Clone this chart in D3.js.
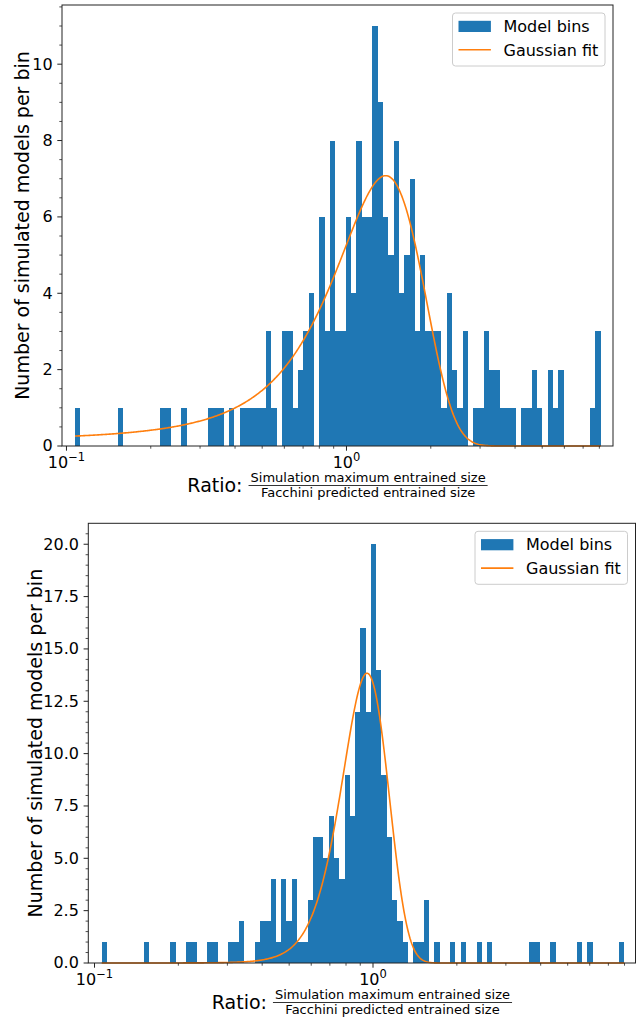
<!DOCTYPE html>
<html>
<head>
<meta charset="utf-8">
<script src="https://cdn.jsdelivr.net/npm/d3@7"></script>
<style>
  body { margin: 0; background: #fff; }
  svg { display: block; }
  text { font-family: "DejaVu Sans", sans-serif; fill: #000; }
</style>
</head>
<body>
<svg id="chart" width="639" height="1017"></svg>
<script>
// Counts of simulated models in each of 99 logarithmic ratio bins
const countsTop = [
  1,0,0,0,0,0,0,0,1,0, 0,0,0,0,0,0,1,1,0,0,
  1,0,0,0,0,1,1,1,0,1, 0,1,1,1,1,1,3,1,0,3,
  3,1,2,3,4,0,6,3,8,3, 3,6,4,8,6,6,11,9,6,5,
  8,4,5,7,3,5,3,3,3,1, 4,2,1,3,0,1,1,3,2,2,
  1,1,1,0,1,1,2,1,0,2, 1,2,0,0,0,0,0,1,3
];
const countsBottom = [
  1,0,0,0,0,0,0,0,1,0, 0,0,0,1,0,0,1,1,0,0,
  1,1,0,0,1,1,2,0,0,1, 2,2,4,1,4,2,4,1,1,3,
  6,6,5,7,5,4,9,7,12,16, 12,20,14,9,6,3,2,1,0,1,
  1,3,0,1,0,0,1,0,1,0, 0,1,0,1,0,0,0,0,0,0,
  0,1,1,0,0,1,0,0,0,0, 1,0,1,0,0,0,0,0,1
];

// Outer bin edges (ratio) of each histogram
const binEdgesTop = [0.1073, 8.09];
const binEdgesBottom = [0.1061, 7.99];

// Gaussian fit parameters: amplitude, mean, standard deviation
const fitTop = [7.08, 1.38, 0.495];
const fitBottom = [13.84, 0.952, 0.183];

// Axis limits and ticks
const xLimTop = [0.0964, 8.95];
const xLimBottom = [0.0950, 8.76];
const xMajorTicks = [0.1, 1];
const xMajorExponents = ["\u22121", "0"];
const yTicksTop = [0, 2, 4, 6, 8, 10];
const yTicksBottom = [0, 2.5, 5, 7.5, 10, 12.5, 15, 17.5, 20];
const yTickFormatTop = d3.format("d");
const yTickFormatBottom = d3.format(".1f");

// Labels
const legendLabels = ["Model bins", "Gaussian fit"];
const yLabel = "Number of simulated models per bin";
const xLabelLead = "Ratio:";
const xLabelNum = "Simulation maximum entrained size";
const xLabelDen = "Facchini predicted entrained size";

const BLUE = "#1f77b4";
const ORANGE = "#ff7f0e";

const svg = d3.select("#chart");

function drawPanel(cfg) {
  const { left, right, top, bottom } = cfg.box;
  const counts = cfg.counts;
  const nBins = counts.length;

  const x = d3.scaleLog().domain(cfg.xLim).range([left, right]);
  const y = d3.scaleLinear().domain([0, d3.max(counts) * 1.05]).range([bottom, top]);

  // logarithmic bin edges
  const lo = Math.log10(cfg.binEdges[0]);
  const hi = Math.log10(cfg.binEdges[1]);
  const edges = d3.range(nBins + 1).map(i => Math.pow(10, lo + (hi - lo) * i / nBins));
  const bins = counts.map((c, i) => ({ x0: edges[i], x1: edges[i + 1], count: c }));

  const g = svg.append("g");

  // histogram bars
  g.append("g")
    .selectAll("rect")
    .data(bins.filter(b => b.count > 0))
    .join("rect")
    .attr("x", d => x(d.x0))
    .attr("width", d => x(d.x1) - x(d.x0))
    .attr("y", d => y(d.count))
    .attr("height", d => y(0) - y(d.count))
    .attr("fill", BLUE)
    .attr("shape-rendering", "crispEdges");

  // Gaussian fit curve sampled across the binned range
  const [amp, mu, sd] = cfg.fit;
  const nSamples = 600;
  const curve = d3.range(nSamples + 1).map(i => {
    const r = Math.pow(10, lo + (hi - lo) * i / nSamples);
    return [r, amp * Math.exp(-((r - mu) ** 2) / (2 * sd * sd))];
  });
  g.append("path")
    .datum(curve)
    .attr("fill", "none")
    .attr("stroke", ORANGE)
    .attr("stroke-width", 1.6)
    .attr("d", d3.line().x(d => x(d[0])).y(d => y(d[1])));

  // frame
  g.append("rect")
    .attr("x", left).attr("y", top)
    .attr("width", right - left).attr("height", bottom - top)
    .attr("fill", "none").attr("stroke", "#222").attr("stroke-width", 1);

  // x ticks: major decades and minor 2..9 multiples
  const [dx0, dx1] = x.domain();
  const minor = [];
  for (let e = -2; e <= 1; e++) {
    for (let m = 2; m <= 9; m++) {
      const v = m * Math.pow(10, e);
      if (v >= dx0 && v <= dx1) minor.push(v);
    }
  }
  g.append("g").selectAll("line").data(minor).join("line")
    .attr("x1", d => x(d)).attr("x2", d => x(d))
    .attr("y1", bottom).attr("y2", bottom + 2.7)
    .attr("stroke", "#222").attr("stroke-width", 0.8);
  g.append("g").selectAll("line").data(xMajorTicks).join("line")
    .attr("x1", d => x(d)).attr("x2", d => x(d))
    .attr("y1", bottom).attr("y2", bottom + 4.7)
    .attr("stroke", "#222").attr("stroke-width", 1);
  const xl = g.append("g").selectAll("text").data(xMajorTicks).join("text")
    .attr("x", d => x(d))
    .attr("y", bottom + 21.5)
    .attr("text-anchor", "middle")
    .style("font-size", "16px");
  xl.append("tspan").text("10");
  xl.append("tspan")
    .attr("dy", -7)
    .style("font-size", "11.5px")
    .text((d, i) => xMajorExponents[i]);

  // y ticks: majors from list, minors every 0.5
  const yMax = y.domain()[1];
  const yMinor = d3.range(0, yMax, 0.5).filter(v => !cfg.yTicks.includes(v));
  g.append("g").selectAll("line").data(yMinor).join("line")
    .attr("x1", left).attr("x2", left - 2.7)
    .attr("y1", d => y(d)).attr("y2", d => y(d))
    .attr("stroke", "#222").attr("stroke-width", 0.8);
  g.append("g").selectAll("line").data(cfg.yTicks).join("line")
    .attr("x1", left).attr("x2", left - 4.7)
    .attr("y1", d => y(d)).attr("y2", d => y(d))
    .attr("stroke", "#222").attr("stroke-width", 1);
  g.append("g").selectAll("text").data(cfg.yTicks).join("text")
    .attr("x", left - 9.4)
    .attr("y", d => y(d))
    .attr("dy", "0.34em")
    .attr("text-anchor", "end")
    .style("font-size", "16px")
    .text(d => cfg.yFormat(d));

  // y axis label
  g.append("text")
    .attr("transform", `translate(${cfg.yLabelX},${(top + bottom) / 2}) rotate(-90)`)
    .attr("text-anchor", "middle")
    .attr("dy", "0.36em")
    .style("font-size", "19px")
    .text(yLabel);

  // x axis label: "Ratio:" followed by a stacked fraction
  const lab = g.append("g");
  const lead = lab.append("text").style("font-size", "19px").attr("dy", "0.36em").text(xLabelLead);
  const num = lab.append("text").style("font-size", "13px").attr("text-anchor", "middle").text(xLabelNum);
  const den = lab.append("text").style("font-size", "13px").attr("text-anchor", "middle").text(xLabelDen);
  const leadW = lead.node().getComputedTextLength();
  const fracW = Math.max(num.node().getComputedTextLength(), den.node().getComputedTextLength()) + 4;
  const gap = 6;
  const total = leadW + gap + fracW;
  const cx = (left + right) / 2;
  const x0 = cx - total / 2;
  const fy = bottom + 39.5;
  lead.attr("x", x0).attr("y", fy);
  const fcx = x0 + leadW + gap + fracW / 2;
  num.attr("x", fcx).attr("y", fy - 3.5);
  den.attr("x", fcx).attr("y", fy + 11.5);
  lab.append("line")
    .attr("x1", fcx - fracW / 2).attr("x2", fcx + fracW / 2)
    .attr("y1", fy).attr("y2", fy)
    .attr("stroke", "#000").attr("stroke-width", 0.8);

  // legend (upper right)
  const lw = 152.5, lh = 53;
  const lx = right - 8 - lw, ly = top + 8;
  const leg = g.append("g").attr("transform", `translate(${lx},${ly})`);
  leg.append("rect")
    .attr("width", lw).attr("height", lh)
    .attr("rx", 3).attr("ry", 3)
    .attr("fill", "#fff").attr("fill-opacity", 0.8)
    .attr("stroke", "#ccc").attr("stroke-width", 1);
  leg.append("rect")
    .attr("x", 6).attr("y", 7.8)
    .attr("width", 32.4).attr("height", 11.2)
    .attr("fill", BLUE);
  leg.append("line")
    .attr("x1", 6).attr("x2", 38.4)
    .attr("y1", 36.8).attr("y2", 36.8)
    .attr("stroke", ORANGE).attr("stroke-width", 1.6);
  leg.selectAll("text.lbl").data(legendLabels).join("text")
    .attr("class", "lbl")
    .attr("x", 51)
    .attr("y", (d, i) => 13.4 + i * 23.6)
    .attr("dy", "0.36em")
    .style("font-size", "16px")
    .text(d => d);
}

drawPanel({
  box: { left: 62, right: 613, top: 5, bottom: 446 },
  counts: countsTop,
  binEdges: binEdgesTop,
  fit: fitTop,
  xLim: xLimTop,
  yTicks: yTicksTop,
  yFormat: yTickFormatTop,
  yLabelX: 22
});

drawPanel({
  box: { left: 88.3, right: 635.5, top: 523.3, bottom: 963 },
  counts: countsBottom,
  binEdges: binEdgesBottom,
  fit: fitBottom,
  xLim: xLimBottom,
  yTicks: yTicksBottom,
  yFormat: yTickFormatBottom,
  yLabelX: 35
});
</script>
</body>
</html>
